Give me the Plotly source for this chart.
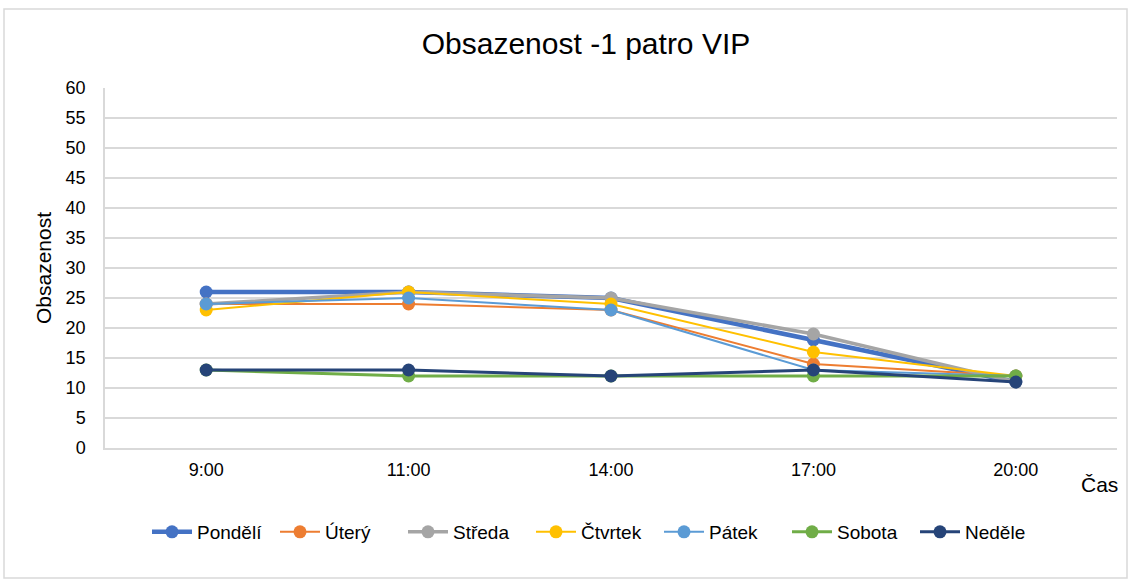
import plotly.graph_objects as go

casy = ["9:00", "11:00", "14:00", "17:00", "20:00"]
pondeli = [26, 26, 25, 18, 11]
utery = [24, 24, 23, 14, 12]
streda = [24, 26, 25, 19, 11]
ctvrtek = [23, 26, 24, 16, 12]
patek = [24, 25, 23, 13, 12]
sobota = [13, 12, 12, 12, 12]
nedele = [13, 13, 12, 13, 11]

series = [
    ("Pondělí", pondeli, "#4472C4", 4.5),
    ("Úterý", utery, "#ED7D31", 2),
    ("Středa", streda, "#A5A5A5", 3.5),
    ("Čtvrtek", ctvrtek, "#FFC000", 2),
    ("Pátek", patek, "#5B9BD5", 2),
    ("Sobota", sobota, "#70AD47", 3),
    ("Neděle", nedele, "#264478", 3),
]

fig = go.Figure()
for name, vals, color, w in series:
    fig.add_trace(go.Scatter(
        x=casy, y=vals, name=name, mode="lines+markers",
        line=dict(color=color, width=w),
        marker=dict(color=color, size=13),
    ))

L, R, T, B = 105, 14, 88, 133
W, H = 1131, 581
pw, ph = W - L - R, H - T - B

def px(x):
    return (x - L) / pw

def py(y):
    return (H - B - y) / ph

FONT = "Liberation Sans, Arial, sans-serif"
fig.update_layout(
    width=W, height=H,
    margin=dict(l=L, r=R, t=T, b=B),
    paper_bgcolor="white", plot_bgcolor="white",
    font=dict(family=FONT, color="#000000", size=18),
    title=dict(text="Obsazenost -1 patro VIP", xref="paper", x=px(586), xanchor="center",
               y=1 - 43 / H, yanchor="middle",
               font=dict(size=30, color="#000000")),
    xaxis=dict(type="category", range=[-0.5, 4.5], showgrid=False,
               showline=True, linecolor="#D9D9D9", linewidth=1.5,
               ticks="", ticklabelstandoff=5,
               tickfont=dict(size=18, color="#000000"), fixedrange=True),
    yaxis=dict(range=[0, 60], dtick=5, showgrid=True, gridcolor="#D9D9D9",
               gridwidth=1.5, showline=True, linecolor="#D9D9D9", linewidth=1.5,
               zeroline=False, ticks="", ticklabelstandoff=14,
               tickfont=dict(size=18, color="#000000"),
               title=dict(text="Obsazenost", font=dict(size=21, color="#000000"), standoff=8)),
    legend=dict(orientation="h", x=px(595), xanchor="center", y=py(532), yanchor="middle",
                font=dict(size=19, color="#000000"), itemwidth=40, tracegroupgap=0,
                entrywidth=73, entrywidthmode="pixels"),
    showlegend=True,
)

fig.add_annotation(text="Čas", xref="paper", yref="paper", x=px(1099), y=py(484),
                   xanchor="center", yanchor="middle", showarrow=False,
                   font=dict(size=21, color="#000000"))

fig.add_shape(type="rect", xref="paper", yref="paper",
              x0=px(4), x1=px(1127), y0=py(578), y1=py(9),
              line=dict(color="#D9D9D9", width=1.5), fillcolor="rgba(0,0,0,0)", layer="below")

fig.write_html("out.html", config={"displayModeBar": False},
               post_script="document.body.style.margin='0px';")
